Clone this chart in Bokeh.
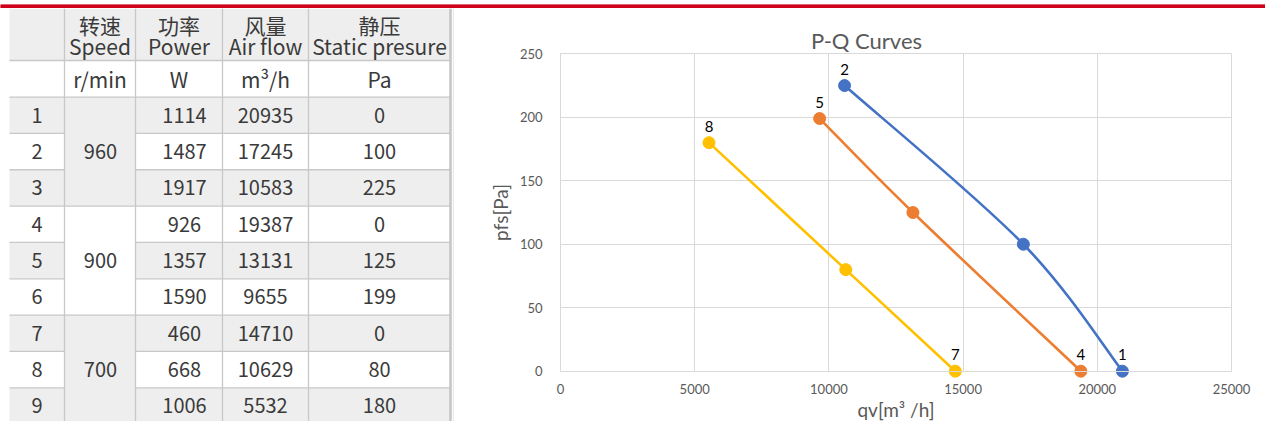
import numpy as np
from bokeh.plotting import figure
from bokeh.models import Range1d, FixedTicker, Label, ColumnDataSource
from bokeh.layouts import column, row
from bokeh.embed import file_html
from bokeh.resources import INLINE
from bokeh.core.properties import value

# ---------------- data ----------------
row_ids = ["1", "2", "3", "4", "5", "6", "7", "8", "9"]
speeds = ["960", "900", "700"]
power = [1114, 1487, 1917, 926, 1357, 1590, 460, 668, 1006]
airflow = [20935, 17245, 10583, 19387, 13131, 9655, 14710, 10629, 5532]
static = [0, 100, 225, 0, 125, 199, 0, 80, 180]
header_cn = ["转速", "功率", "风量", "静压"]
header_en = ["Speed", "Power", "Air flow", "Static presure"]
units = ["r/min", "W", "m³/h", "Pa"]

point_labels = [["1", "", "2"], ["4", "", "5"], ["7", "", "8"]]
series_colors = ["#4472C4", "#ED7D31", "#FFC000"]
x_ticks = [0, 5000, 10000, 15000, 20000, 25000]
y_ticks = [0, 50, 100, 150, 200, 250]
chart_title = "P-Q Curves"
x_label = "qv[m³ /h]"
y_label = "pfs[Pa]"

# ---------------- styles ----------------
RED = "#D0021B"
GRID = "#c8c8c8"
SHADE = "#eeeeee"
TXT = "#3a3a3a"
TFONT = "Noto Sans CJK SC"
CFONT = "Lato"
CGRID = "#d9d9d9"
PAGE_W, PAGE_H = 1265, 421
BAR_H = 8
TBL_W = 454

# ---------------- red top bar ----------------
bar = figure(width=PAGE_W, height=BAR_H, x_range=Range1d(0, PAGE_W), y_range=Range1d(BAR_H, 0),
             x_axis_type=None, y_axis_type=None, output_backend="svg",
             toolbar_location=None, min_border=0)
bar.outline_line_color = None
bar.grid.visible = False
bar.quad(left=[0], right=[PAGE_W], top=[0], bottom=[6], color=RED)
bar.quad(left=[0], right=[PAGE_W], top=[7], bottom=[8], color="#dcdcdc")

# ---------------- table ----------------
tbl = figure(width=TBL_W, height=PAGE_H - BAR_H, x_range=Range1d(0, TBL_W), y_range=Range1d(437, 8),
             x_axis_type=None, y_axis_type=None, output_backend="svg",
             toolbar_location=None, min_border=0)
tbl.outline_line_color = None
tbl.grid.visible = False

col_edges = [9, 64, 135, 222, 308, 450]
hdr_top, hdr_bot, unit_bot = 8, 62, 100
rh = 37.75
nrows = len(row_ids)

L, R, T, B, C = [], [], [], [], []
L.append(col_edges[0]); R.append(col_edges[-1]); T.append(hdr_top); B.append(hdr_bot); C.append(SHADE)
for i in range(nrows):
    y0 = unit_bot + rh * i
    y1 = y0 + rh
    fill = SHADE if i % 2 == 0 else "#ffffff"
    for c in [0, 2, 3, 4]:
        L.append(col_edges[c]); R.append(col_edges[c + 1]); T.append(y0); B.append(y1); C.append(fill)
for g in range(len(speeds)):
    y0 = unit_bot + rh * 3 * g
    L.append(col_edges[1]); R.append(col_edges[2]); T.append(y0); B.append(y0 + 3 * rh)
    C.append(SHADE if g % 2 == 0 else "#ffffff")
tbl.quad(left=L, right=R, top=T, bottom=B, fill_color=C, line_color=None)

sx0, sy0, sx1, sy1 = [], [], [], []
for yy in [hdr_bot, unit_bot]:
    sx0.append(col_edges[0]); sx1.append(col_edges[-1]); sy0.append(yy); sy1.append(yy)
for k in range(1, nrows):
    yy = unit_bot + rh * k
    if k % 3 == 0:
        sx0.append(col_edges[0]); sx1.append(col_edges[-1]); sy0.append(yy); sy1.append(yy)
    else:
        sx0 += [col_edges[0], col_edges[2]]; sx1 += [col_edges[1], col_edges[-1]]
        sy0 += [yy, yy]; sy1 += [yy, yy]
for xx in col_edges[1:-1]:
    sx0.append(xx); sx1.append(xx); sy0.append(hdr_top); sy1.append(437)
tbl.segment(x0=sx0, y0=sy0, x1=sx1, y1=sy1, line_color=GRID, line_width=1.3)
tbl.segment(x0=[450], y0=[hdr_top], x1=[450], y1=[437], line_color="#c4c4c4", line_width=2.5)
tbl.segment(x0=[452.8], y0=[hdr_top], x1=[452.8], y1=[437], line_color="#e4e4e4", line_width=1)

hdr_x = [99.5, 178.5, 265, 379]
data_x = [36.5, 100, 184, 265, 379]
hx, hy, ht = [], [], []
for j in range(4):
    hx += [hdr_x[j], hdr_x[j], hdr_x[j]]
    hy += [25, 47, 81]
    ht += [header_cn[j], header_en[j], units[j]]
tbl.text(x=hx, y=hy, text=ht, text_font=value(TFONT), text_font_size="21px",
         text_color=TXT, text_align="center", text_baseline="middle")
tx, ty, tt = [], [], []
for i in range(nrows):
    yc = unit_bot + rh * (i + 0.5)
    tx += [data_x[0], data_x[2], data_x[3], data_x[4]]
    ty += [yc, yc, yc, yc]
    tt += [row_ids[i], str(power[i]), str(airflow[i]), str(static[i])]
for g, s in enumerate(speeds):
    tx.append(data_x[1]); ty.append(unit_bot + rh * (3 * g + 1.5)); tt.append(s)
tbl.text(x=tx, y=ty, text=tt, text_font=value(TFONT), text_font_size="20px",
         text_color=TXT, text_align="center", text_baseline="middle")

# ---------------- chart ----------------
# reference-pixel geometry: figure spans x 454..1265, y 8..421; plot area below
FIG_L, FIG_R, FIG_T, FIG_B = TBL_W, PAGE_W, BAR_H, PAGE_H
PA_L, PA_R, PA_T, PA_B = 560, 1231, 53.3, 370.7
xmin, xmax = x_ticks[0], x_ticks[-1]
ymin, ymax = y_ticks[0], y_ticks[-1]
kx = (PA_R - PA_L) / (xmax - xmin)
ky = (PA_B - PA_T) / (ymax - ymin)
xr = Range1d(xmin - (PA_L - FIG_L) / kx, xmax + (FIG_R - PA_R) / kx)
yr = Range1d(ymin - (FIG_B - PA_B) / ky, ymax + (PA_T - FIG_T) / ky)

p = figure(width=FIG_R - FIG_L, height=FIG_B - FIG_T, x_range=xr, y_range=yr,
           output_backend="svg", toolbar_location=None, min_border=0)
p.outline_line_color = None
p.background_fill_color = "#ffffff"

use_cross = "cross_bounds" in p.xgrid[0].properties()
if use_cross:
    p.xgrid.ticker = FixedTicker(ticks=x_ticks)
    p.ygrid.ticker = FixedTicker(ticks=y_ticks)
    p.xgrid.cross_bounds = (ymin, ymax)
    p.ygrid.cross_bounds = (xmin, xmax)
    p.xgrid.bounds = (xmin, xmax)
    p.ygrid.bounds = (ymin, ymax)
    p.grid.grid_line_color = CGRID
    p.grid.grid_line_width = 1
else:
    p.grid.visible = False
    p.segment(x0=x_ticks, y0=[ymin] * len(x_ticks), x1=x_ticks, y1=[ymax] * len(x_ticks),
              line_color=CGRID, line_width=1)
    p.segment(x0=[xmin] * len(y_ticks), y0=y_ticks, x1=[xmax] * len(y_ticks), y1=y_ticks,
              line_color=CGRID, line_width=1)

p.xaxis.ticker = FixedTicker(ticks=x_ticks)
p.yaxis.ticker = FixedTicker(ticks=y_ticks)
p.xaxis.fixed_location = ymin
p.yaxis.fixed_location = xmin
p.xaxis.bounds = (xmin, xmax)
p.yaxis.bounds = (ymin, ymax)
for ax in [p.xaxis[0], p.yaxis[0]]:
    ax.axis_line_color = CGRID
    ax.major_tick_line_color = None
    ax.minor_tick_line_color = None
    ax.major_tick_out = 0
    ax.major_tick_in = 0
    ax.major_label_text_font = CFONT
    ax.major_label_text_font_size = "13px"
    ax.major_label_text_color = "#595959"
    ax.axis_label_text_font = CFONT
    ax.axis_label_text_font_size = "19px"
    ax.axis_label_text_font_style = "normal"
    ax.axis_label_text_color = "#595959"
p.xaxis.major_label_standoff = 13
p.yaxis.major_label_standoff = 18
p.xaxis.axis_label = x_label
p.yaxis.axis_label = y_label
p.xaxis.axis_label_standoff = 0
p.yaxis.axis_label_standoff = 5


def smooth_bezier(xs, ys):
    P = np.column_stack([xs, ys]).astype(float)
    Pp = np.vstack([P[0], P, P[-1]])
    segs = []
    for i in range(len(P) - 1):
        a, b = Pp[i + 1], Pp[i + 2]
        c1 = a + (Pp[i + 2] - Pp[i]) / 6.0
        c2 = b - (Pp[i + 3] - Pp[i + 1]) / 6.0
        segs.append((a, b, c1, c2))
    return dict(x0=[s[0][0] for s in segs], y0=[s[0][1] for s in segs],
                x1=[s[1][0] for s in segs], y1=[s[1][1] for s in segs],
                cx0=[s[2][0] for s in segs], cy0=[s[2][1] for s in segs],
                cx1=[s[3][0] for s in segs], cy1=[s[3][1] for s in segs])


for g in range(len(speeds)):
    xs = airflow[3 * g:3 * g + 3]
    ys = static[3 * g:3 * g + 3]
    col = series_colors[g]
    p.bezier(source=ColumnDataSource(smooth_bezier(xs, ys)), x0="x0", y0="y0", x1="x1", y1="y1",
             cx0="cx0", cy0="cy0", cx1="cx1", cy1="cy1", line_color=col, line_width=2.6)
    p.scatter(x=xs, y=ys, size=12, marker="circle", fill_color=col, line_color=col)
    p.text(x=xs, y=ys, text=point_labels[g], text_font=value(CFONT), text_font_size="15px",
           text_color="#000000", text_align="center", text_baseline="bottom", y_offset=-11)

title_x = xmin + (866 - PA_L) / kx
title_y = ymin + (PA_B - 40) / ky
p.add_layout(Label(x=title_x, y=title_y, text=chart_title, text_align="center", text_baseline="middle",
                   text_font=CFONT, text_font_size="22px", text_color="#595959"))

layout = column(bar, row(tbl, p))
open("out.html", "w").write(file_html(layout, INLINE))
